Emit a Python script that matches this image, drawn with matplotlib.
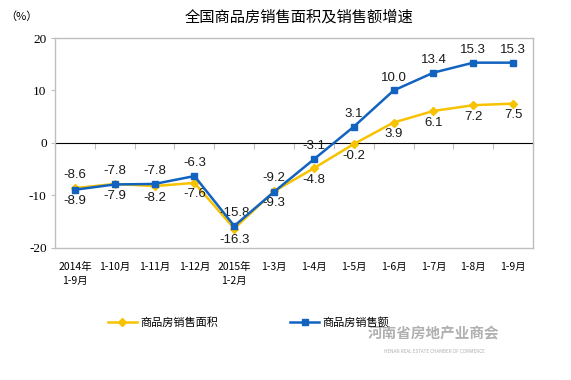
import matplotlib
matplotlib.use('Agg')
import matplotlib.pyplot as plt
import numpy as np

plt.rcParams['font.family'] = ['Noto Sans CJK SC', 'DejaVu Sans']

# =============================================================================
# DATA
# =============================================================================

CATEGORIES = ['2014年\n1-9月', '1-10月', '1-11月', '1-12月', '2015年\n1-2月',
              '1-3月', '1-4月', '1-5月', '1-6月', '1-7月', '1-8月', '1-9月']
AREA   = [-8.6, -7.8, -8.2, -7.6, -16.3, -9.2, -4.8, -0.2, 3.9, 6.1, 7.2, 7.5]
AMOUNT = [-8.9, -7.9, -7.8, -6.3, -15.8, -9.3, -3.1, 3.1, 10.0, 13.4, 15.3, 15.3]
YTICKS = [-20, -10, 0, 10, 20]

AREA_NAME   = '商品房销售面积'
AMOUNT_NAME = '商品房销售额'
TITLE       = '全国商品房销售面积及销售额增速'

YELLOW = '#F7C200'
BLUE   = '#1263BF'
GRAY   = '#BFBFBF'

# =============================================================================
# PLOT
# =============================================================================

fig = plt.figure(figsize=(5.71, 3.80), dpi=100)
ax = fig.add_axes([0.0963, 0.3474, 0.8372, 0.5526])

x = np.arange(len(CATEGORIES))
ax.plot(x, AREA, color=YELLOW, lw=1.8, marker='D', ms=4.5, zorder=3,
        label=AREA_NAME)
ax.plot(x, AMOUNT, color=BLUE, lw=1.8, marker='s', ms=5, zorder=4,
        label=AMOUNT_NAME)

# data labels: higher value above its point, lower one below
for i in x:
    for val, other in ((AREA[i], AMOUNT[i]), (AMOUNT[i], AREA[i])):
        above = val >= other
        dy = 5 if above else -4
        va = 'bottom' if above else 'top'
        ax.annotate(f'{val:.1f}', (i, val), xytext=(0, dy),
                    textcoords='offset points', ha='center', va=va,
                    fontsize=9.5, family=['Liberation Sans', 'DejaVu Sans'],
                    color='#1a1a1a')

ax.set_xlim(-0.5, len(CATEGORIES) - 0.5)
ax.set_ylim(-20, 20)
ax.set_yticks(YTICKS)
ax.set_yticklabels([str(v) for v in YTICKS],
                   family=['Liberation Serif', 'DejaVu Serif'], fontsize=9.5)
ax.tick_params(axis='y', length=3, color=GRAY, pad=3)

ax.set_xticks(x)
ax.set_xticklabels(CATEGORIES, fontsize=7.5, linespacing=1.5)
ax.tick_params(axis='x', length=0, pad=10)

for sp in ax.spines.values():
    sp.set_color(GRAY)
    sp.set_linewidth(1.0)

# category axis sits on y = 0 with boundary ticks pointing up
sec = ax.secondary_xaxis(0.5)
sec.set_xticks(np.arange(len(CATEGORIES) + 1) - 0.5)
sec.set_xticklabels([])
sec.tick_params(direction='in', length=4, color=GRAY)
sec.spines['bottom'].set_color(GRAY)

fig.text(0.037, 0.955, '（%）', fontsize=8, ha='center', va='center')
fig.text(0.523, 0.955, TITLE, fontsize=11, ha='center', va='center')

leg = fig.legend(loc='center', bbox_to_anchor=(0.435, 0.152), ncol=2,
                 frameon=False, fontsize=8, columnspacing=6.5,
                 handlelength=2.6, handletextpad=0.3)

fig.text(0.76, 0.122, '河南省房地产业商会', fontsize=10.5, color='#B0B0B0',
         ha='center', va='center', weight='bold')
fig.text(0.76, 0.075, 'HENAN REAL ESTATE CHAMBER OF COMMERCE', fontsize=3.3,
         color='#B0B0B0', ha='center', va='center')

fig.savefig('out.png', dpi=100)
